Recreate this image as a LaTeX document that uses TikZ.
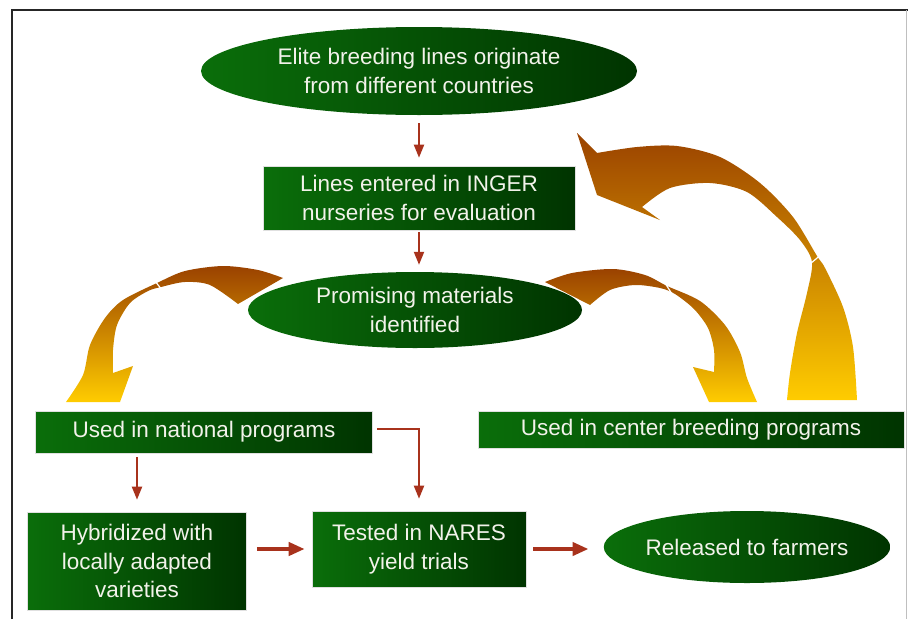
\documentclass[tikz,border=0pt]{standalone}
\usepackage{fontspec}
\setmainfont{Liberation Sans}
\usetikzlibrary{arrows.meta,positioning,shapes.geometric}
\definecolor{ngreen}{HTML}{0A6E0A}
\definecolor{ndark}{HTML}{003400}
\definecolor{ntext}{HTML}{F2F2EA}
\definecolor{nred}{HTML}{A8321C}
\definecolor{nbrown}{HTML}{9A4200}
\definecolor{norange}{HTML}{C98A05}
\definecolor{nyellow}{HTML}{FFCC00}

\begin{document}
\begin{tikzpicture}[
      x=1pt,y=-1pt,
      font=\fontsize{22.5}{28.5}\selectfont,
      box/.style={rectangle,left color=ngreen,middle color=ngreen!85!ndark,right color=ndark,
        draw=black!12,line width=0.6pt,text=ntext,align=center,inner sep=0pt},
      oval/.style={ellipse,left color=ngreen,middle color=ngreen!85!ndark,right color=ndark,
        text=ntext,align=center,inner sep=0pt},
      arrow/.style={-{Triangle[length=13pt,width=10pt]},line width=2pt,nred},
      fat/.style={-{Triangle[length=16pt,width=13pt]},line width=4pt,nred},
      swoop/.style={top color=nbrown,middle color=norange,bottom color=nyellow},
      seam/.style={white,line width=1.2pt}
    ]
    \useasboundingbox (0,0) rectangle (908,619);
    \draw[line width=1.5pt,black!85] (12,619) -- (12,10) -- (908,10);
    \draw[line width=0.8pt,black!25] (906,10) -- (906,619);

    % curved arrows
    \shade[swoop] plot[smooth] coordinates {(283,278) (258,270) (223,266) (185,271) (157,283) (123,300) (105,318) (90,345) (83,375) (66,402)}
      -- (120,402) -- (133,366) -- (113,373)
      -- plot[smooth] coordinates {(113,373) (113,350) (117,325) (130,303) (148,291) (161,287) (185,282) (210,285) (238,304)} -- cycle;
    \draw[seam] (155,281) -- (162,290);
    \shade[swoop] plot[smooth] coordinates {(545,282) (572,273) (613,269) (645,275) (667,286) (700,301) (725,325) (740,352) (747,378) (757,402)}
      -- (709,402) -- (693,367) -- (714,372)
      -- plot[smooth] coordinates {(714,372) (714,350) (708,328) (694,309) (675,294) (660,288) (635,285) (610,290) (590,305)} -- cycle;
    \draw[seam] (665,283) -- (672,294);
    \shade[swoop] plot[smooth] coordinates {(857,400) (853,347) (843,307) (825,268) (817,256) (793,217) (760,183) (720,157) (677,146) (637,147) (597,153)}
      -- (577,133) -- (597,195) -- (660,220) -- (642,207)
      -- plot[smooth] coordinates {(642,207) (670,188) (710,183) (747,192) (777,217) (800,240) (812,262) (807,293) (797,333) (790,373) (787,400)} -- cycle;
    \draw[seam] (810,264) -- (823,253);

    % nodes
    \node[oval,minimum width=436pt,minimum height=88pt] (elite) at (419,71) {Elite breeding lines originate\\from different countries};
    \node[box,minimum width=312pt,minimum height=64pt] (inger) at (419,198) {Lines entered in INGER\\nurseries for evaluation};
    \node[oval,minimum width=334pt,minimum height=76pt] (promising) at (415,310) {Promising materials\\identified};
    \node[box,minimum width=337pt,minimum height=42pt] (national) at (204,432) {Used in national programs};
    \node[box,minimum width=426pt,minimum height=37pt] (center) at (691,430) {Used in center breeding programs};
    \node[box,minimum width=219pt,minimum height=98pt] (hybrid) at (137,561) {Hybridized with\\locally adapted\\varieties};
    \node[box,minimum width=214pt,minimum height=76pt] (nares) at (419,549) {Tested in NARES\\yield trials};
    \node[oval,minimum width=280pt,minimum height=72pt] (released) at (747,547) {Released to farmers};

    % red arrows
    \draw[arrow,shorten <=8pt,shorten >=8pt] (elite.south) -- (inger.north);
    \draw[arrow,shorten <=2pt,shorten >=7pt] (inger.south) -- (inger.south |- promising.north);
    \draw[arrow,shorten <=4pt,shorten >=12pt] (national.south -| hybrid) -- (hybrid);
    \draw[arrow,shorten <=4pt,shorten >=12pt] ([yshift=3pt]national.east) -| (nares);
    \draw[fat,shorten <=10pt,shorten >=7pt] (hybrid.east |- nares) -- (nares.west);
    \draw[fat,shorten <=7pt,shorten >=15pt] (nares.east) -- (released.west |- nares.east);
  \end{tikzpicture}
\end{document}
